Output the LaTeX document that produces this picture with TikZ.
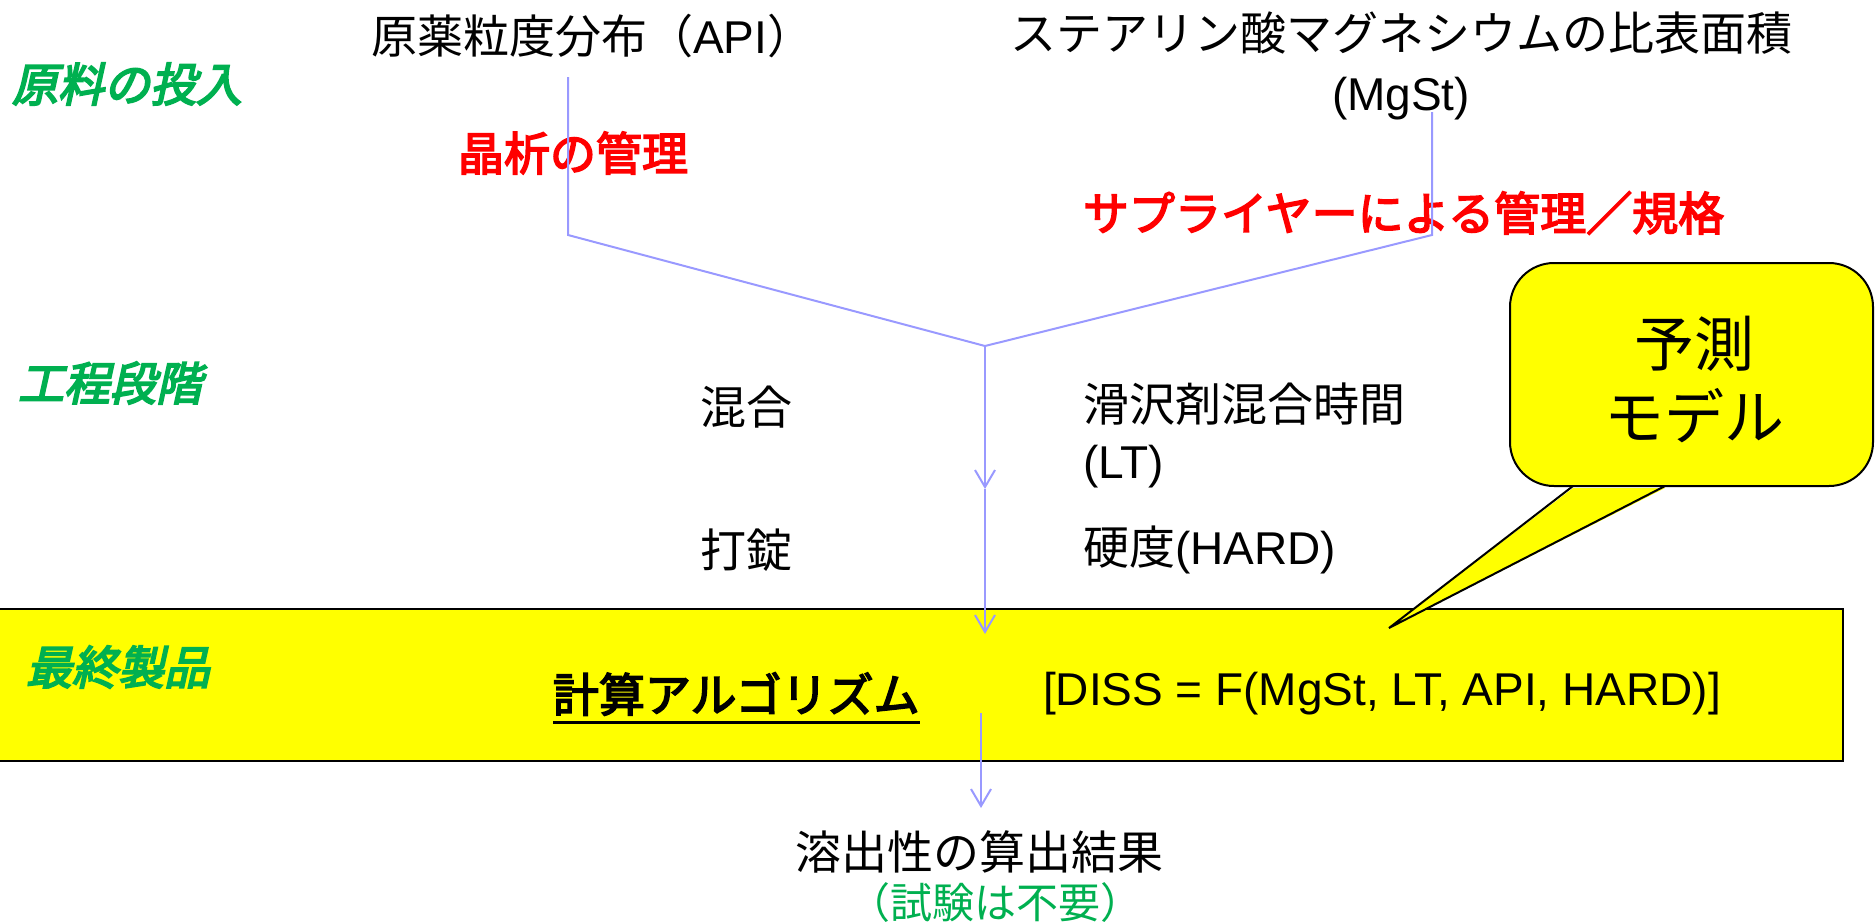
\documentclass[tikz,border=0pt]{standalone}
\usepackage{fontspec}
\setmainfont{Liberation Sans}
\newfontfamily\lat{Liberation Sans}
\newfontfamily\jp{Noto Sans CJK JP}
\newfontfamily\jpb[FakeBold=3.5]{Noto Sans CJK JP}
\newfontfamily\jpbi[FakeBold=4,FakeSlant=0.22]{Noto Sans CJK JP}
\usetikzlibrary{arrows.meta}
\definecolor{lgreen}{HTML}{00B050}
\definecolor{lred}{HTML}{FF0000}
\definecolor{lav}{HTML}{9999FF}
\definecolor{yel}{HTML}{FFFF00}
\tikzset{
  txt/.style={inner sep=0pt, outer sep=0pt, anchor=west, font=\jp\fontsize{46}{57}\selectfont},
  stage/.style={txt, text=lgreen, font=\jpbi\fontsize{46}{57}\selectfont},
  ctrl/.style={txt, text=lred, font=\jpb\fontsize{46}{57}\selectfont},
  flow/.style={draw=lav, line width=2pt},
  flowarrow/.style={flow, -{Straight Barb[length=17pt,width=20pt,line width=2pt]}},
  boxline/.style={draw=black, line width=2pt}
}
\begin{document}
\begin{tikzpicture}[x=1pt,y=-1pt]
\useasboundingbox (0,0) rectangle (1876,921);
% final product band
\path[fill=yel, boxline] (-10,609) rectangle (1843,761);
% stage labels
\node[stage] (s1) at (12,84) {原料の投入};
\node[stage] (s2) at (18,383) {工程段階};
\node[stage] (s3) at (26,667) {最終製品};
% raw materials
\node[txt] (api) at (371,36) {原薬粒度分布（{\lat API}）};
\node[txt, anchor=center, align=center, font=\jp\fontsize{46}{60}\selectfont] (mgst) at (1401,66) {ステアリン酸マグネシウムの比表面積\\{\lat (MgSt)}};
\node[ctrl] (c1) at (458,153) {晶析の管理};
\node[ctrl] (c2) at (1083,213) {サプライヤーによる管理／規格};
% process
\node[txt] (mix) at (700,407) {混合};
\node[txt, align=left, font=\jp\fontsize{46}{57}\selectfont] (lt) at (1083,435) {滑沢剤混合時間\\{\lat (LT)}};
\node[txt] (tab) at (700,550) {打錠};
\node[txt] (hard) at (1083,550) {硬度{\lat (HARD)}};
% algorithm
\node[txt, font=\jpb\fontsize{46}{57}\selectfont] (alg) at (553,694) {計算アルゴリズム};
\draw[line width=3pt] ([yshift=-11pt]alg.base west) -- ([yshift=-11pt]alg.base east);
\node[txt, font=\lat\fontsize{46}{57}\selectfont] (diss) at (1043,694) {[DISS = F(MgSt, LT, API, HARD)]};
% result
\node[txt, anchor=center] (res) at (979,852) {溶出性の算出結果};
\node[txt, anchor=center, text=lgreen, font=\jp\fontsize{42}{50}\selectfont] (note) at (995,903) {（試験は不要）};
% connectors
\coordinate (a0) at (568,77);
\coordinate (a1) at (568,235);
\coordinate (m0) at (1432,112);
\coordinate (m1) at (1432,235);
\coordinate (j) at (985,346);
\coordinate (k1) at (985,489);
\coordinate (k2) at (985,634);
\coordinate (o0) at (981,713);
\coordinate (o1) at (981,808);
\draw[flow] (a0) -- (a1) -- (j);
\draw[flow] (m0) -- (m1) -- (j);
\draw[flowarrow] (j) -- (k1);
\draw[flowarrow] (k1) -- (k2);
\draw[flowarrow] (o0) -- (o1);
% callout
\coordinate (pl) at (1573,486);
\coordinate (pr) at (1665,486);
\coordinate (tip) at (1389,628);
\path[fill=yel, boxline, rounded corners=44pt] (1510,263) rectangle (1873,486);
\fill[yel] ([yshift=-2pt]pl) -- (tip) -- ([yshift=-2pt]pr) -- cycle;
\draw[boxline, line join=miter] (pl) -- (tip) -- (pr);
\node[txt, anchor=center, align=center, font=\jp\fontsize{60}{73}\selectfont] (model) at (1694,380) {予測\\モデル};
\end{tikzpicture}
\end{document}
